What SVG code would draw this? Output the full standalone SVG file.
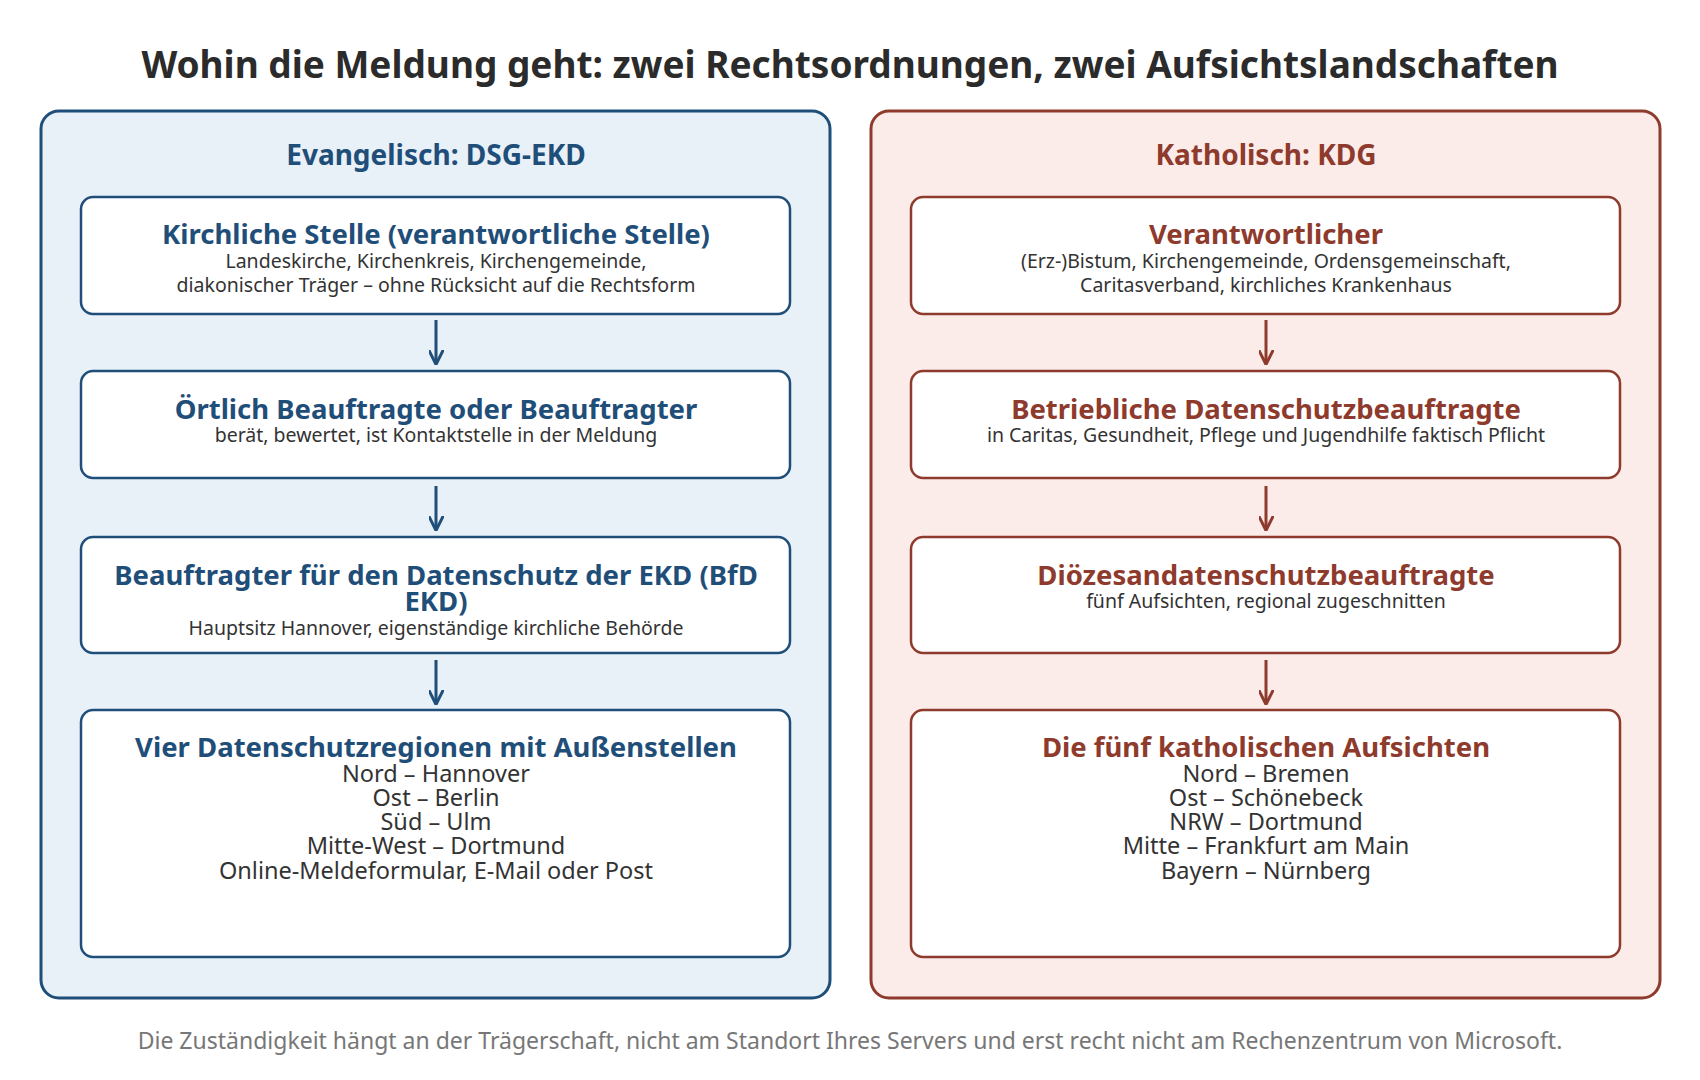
<svg xmlns="http://www.w3.org/2000/svg" width="1700" height="1080" viewBox="0 0 1700 1080">
<style>
text{font-family:"Noto Sans","Open Sans",sans-serif;text-anchor:middle}
.title{font-size:37px;font-weight:bold;fill:#2b2b2b}
.ph{font-size:28px;font-weight:bold}
.bt{font-size:27.5px;font-weight:bold}
.sub{font-size:19.5px;fill:#333}
.lst{font-size:23.5px;fill:#333}
.b .ph,.b .bt{fill:#1f4e79}
.r .ph,.r .bt{fill:#8e3a2c}
.b .panel{fill:#e8f0f8;stroke:#1f4e79;stroke-width:3}
.r .panel{fill:#fbecea;stroke:#8e3a2c;stroke-width:3}
.b .box{fill:#fff;stroke:#1f4e79;stroke-width:2.5}
.r .box{fill:#fff;stroke:#8e3a2c;stroke-width:2.5}
.cap{font-size:23px;fill:#777}
</style>
<defs>
<marker id="ab" viewBox="0 0 10 10" refX="9" refY="5" markerWidth="5" markerHeight="5" orient="auto"><path d="M0,0 L10,5 L0,10" fill="none" stroke="#1f4e79" stroke-width="2"/></marker>
<marker id="ar" viewBox="0 0 10 10" refX="9" refY="5" markerWidth="5" markerHeight="5" orient="auto"><path d="M0,0 L10,5 L0,10" fill="none" stroke="#8e3a2c" stroke-width="2"/></marker>
</defs>
<text class="title" x="850" y="78">Wohin die Meldung geht: zwei Rechtsordnungen, zwei Aufsichtslandschaften</text>
<g class="b">
<rect id="panel-ev" class="panel" x="41" y="111" width="789" height="887" rx="18"/>
<text class="ph" x="436" y="165">Evangelisch: DSG-EKD</text>
<g id="ev1"><rect class="box" x="81" y="197" width="709" height="117" rx="12"/>
<text class="bt" x="436" y="244">Kirchliche Stelle (verantwortliche Stelle)</text>
<text class="sub" x="436" y="268">Landeskirche, Kirchenkreis, Kirchengemeinde,</text>
<text class="sub" x="436" y="292">diakonischer Träger – ohne Rücksicht auf die Rechtsform</text></g>
<g id="ev2"><rect class="box" x="81" y="371" width="709" height="107" rx="12"/>
<text class="bt" x="436" y="419">Örtlich Beauftragte oder Beauftragter</text>
<text class="sub" x="436" y="442">berät, bewertet, ist Kontaktstelle in der Meldung</text></g>
<g id="ev3"><rect class="box" x="81" y="537" width="709" height="116" rx="12"/>
<text class="bt" x="436" y="585">Beauftragter für den Datenschutz der EKD (BfD</text>
<text class="bt" x="436" y="611">EKD)</text>
<text class="sub" x="436" y="635">Hauptsitz Hannover, eigenständige kirchliche Behörde</text></g>
<g id="ev4"><rect class="box" x="81" y="710" width="709" height="247" rx="12"/>
<text class="bt" x="436" y="757">Vier Datenschutzregionen mit Außenstellen</text>
<text class="lst" x="436" y="782">Nord – Hannover</text>
<text class="lst" x="436" y="806">Ost – Berlin</text>
<text class="lst" x="436" y="830">Süd – Ulm</text>
<text class="lst" x="436" y="854">Mitte-West – Dortmund</text>
<text class="lst" x="436" y="879">Online-Meldeformular, E-Mail oder Post</text></g>
</g>
<g class="r">
<rect id="panel-kat" class="panel" x="871" y="111" width="789" height="887" rx="18"/>
<text class="ph" x="1266" y="165">Katholisch: KDG</text>
<g id="k1"><rect class="box" x="911" y="197" width="709" height="117" rx="12"/>
<text class="bt" x="1266" y="244">Verantwortlicher</text>
<text class="sub" x="1266" y="268">(Erz-)Bistum, Kirchengemeinde, Ordensgemeinschaft,</text>
<text class="sub" x="1266" y="292">Caritasverband, kirchliches Krankenhaus</text></g>
<g id="k2"><rect class="box" x="911" y="371" width="709" height="107" rx="12"/>
<text class="bt" x="1266" y="419">Betriebliche Datenschutzbeauftragte</text>
<text class="sub" x="1266" y="442">in Caritas, Gesundheit, Pflege und Jugendhilfe faktisch Pflicht</text></g>
<g id="k3"><rect class="box" x="911" y="537" width="709" height="116" rx="12"/>
<text class="bt" x="1266" y="585">Diözesandatenschutzbeauftragte</text>
<text class="sub" x="1266" y="608">fünf Aufsichten, regional zugeschnitten</text></g>
<g id="k4"><rect class="box" x="911" y="710" width="709" height="247" rx="12"/>
<text class="bt" x="1266" y="757">Die fünf katholischen Aufsichten</text>
<text class="lst" x="1266" y="782">Nord – Bremen</text>
<text class="lst" x="1266" y="806">Ost – Schönebeck</text>
<text class="lst" x="1266" y="830">NRW – Dortmund</text>
<text class="lst" x="1266" y="854">Mitte – Frankfurt am Main</text>
<text class="lst" x="1266" y="879">Bayern – Nürnberg</text></g>
</g>
<g id="connectors" stroke-width="3" fill="none">
<line x1="436" y1="320" x2="436" y2="363" stroke="#1f4e79" marker-end="url(#ab)"/>
<line x1="436" y1="486" x2="436" y2="529" stroke="#1f4e79" marker-end="url(#ab)"/>
<line x1="436" y1="660" x2="436" y2="703" stroke="#1f4e79" marker-end="url(#ab)"/>
<line x1="1266" y1="320" x2="1266" y2="363" stroke="#8e3a2c" marker-end="url(#ar)"/>
<line x1="1266" y1="486" x2="1266" y2="529" stroke="#8e3a2c" marker-end="url(#ar)"/>
<line x1="1266" y1="660" x2="1266" y2="703" stroke="#8e3a2c" marker-end="url(#ar)"/>
</g>
<text class="cap" x="850" y="1049">Die Zuständigkeit hängt an der Trägerschaft, nicht am Standort Ihres Servers und erst recht nicht am Rechenzentrum von Microsoft.</text>
</svg>
